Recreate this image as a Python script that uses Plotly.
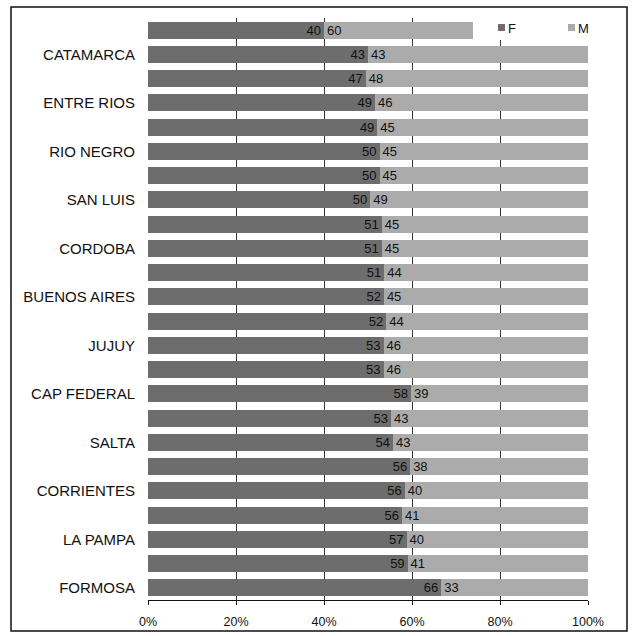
import plotly.graph_objects as go

# Rows from top to bottom; only every other row carries a province name
provinces = ["", "CATAMARCA", "", "ENTRE RIOS", "", "RIO NEGRO", "", "SAN LUIS",
             "", "CORDOBA", "", "BUENOS AIRES", "", "JUJUY", "", "CAP FEDERAL",
             "", "SALTA", "", "CORRIENTES", "", "LA PAMPA", "", "FORMOSA"]
f_vals = [40, 43, 47, 49, 49, 50, 50, 50, 51, 51, 51, 52, 52, 53, 53, 58,
          53, 54, 56, 56, 56, 57, 59, 66]
m_vals = [60, 43, 48, 46, 45, 45, 45, 49, 45, 45, 44, 45, 44, 46, 46, 39,
          43, 43, 38, 40, 41, 40, 41, 33]
series_names = ["F", "M"]
series_colors = ["#6d6d6d", "#ababab"]
x_ticks = [0, 0.2, 0.4, 0.6, 0.8, 1.0]

rows = list(range(len(provinces)))
totals = [f + m for f, m in zip(f_vals, m_vals)]
f_share = [f / t for f, t in zip(f_vals, totals)]
m_share = [m / t for m, t in zip(m_vals, totals)]

FONT = "Liberation Sans, Arial, sans-serif"
W, H = 632, 636
L, R, T, B = 148, 44, 18, 36
plot_w = W - L - R
plot_h = H - T - B


def px_x(px):
    return (px - L) / plot_w


def px_y(py):
    return (H - B - py) / plot_h


fig = go.Figure()
for name, vals, share, color, anchor in [
    ("F", f_vals, f_share, series_colors[0], "end"),
    ("M", m_vals, m_share, series_colors[1], "start"),
]:
    fig.add_trace(go.Bar(
        name=name, y=rows, x=share, orientation="h",
        marker=dict(color=color, line=dict(width=0)),
        text=[str(v) for v in vals], textposition="inside",
        insidetextanchor=anchor, textangle=0,
        textfont=dict(family=FONT, size=13, color="#111111"),
        showlegend=False,
    ))

label_rows = [i for i, p in enumerate(provinces) if p]
label_text = [provinces[i] for i in label_rows]

shapes = [
    # white legend panel over the top-right corner of the plot
    dict(type="rect", xref="paper", yref="paper", layer="above",
         x0=px_x(473), x1=px_x(594), y0=px_y(40), y1=px_y(0),
         fillcolor="white", line=dict(width=0)),
    # outer frame
    dict(type="rect", xref="paper", yref="paper", layer="above",
         x0=px_x(11), x1=px_x(627), y0=px_y(631), y1=px_y(7),
         fillcolor="rgba(0,0,0,0)", line=dict(color="#111111", width=1.5)),
]
annotations = []
# legend: small square swatch followed by the series name
for name, color, left in zip(series_names, series_colors, [498, 568]):
    shapes.append(dict(type="rect", xref="paper", yref="paper", layer="above",
                       x0=px_x(left), x1=px_x(left + 7),
                       y0=px_y(31), y1=px_y(24),
                       fillcolor=color, line=dict(width=0)))
    annotations.append(dict(xref="paper", yref="paper", x=px_x(left + 8),
                            y=px_y(28), xanchor="left", yanchor="middle",
                            text=name, showarrow=False,
                            font=dict(family=FONT, size=13, color="#111111")))

fig.update_layout(
    width=W, height=H,
    margin=dict(l=L, r=R, t=T, b=B, autoexpand=False),
    paper_bgcolor="white", plot_bgcolor="white",
    barmode="stack", bargap=0.3,
    font=dict(family=FONT, size=12, color="#111111"),
    uniformtext=dict(minsize=13, mode="show"),
    showlegend=False,
    xaxis=dict(
        range=[0, 1], tickvals=x_ticks, tickformat=".0%",
        showgrid=True, gridcolor="#333333", gridwidth=1,
        showline=True, linecolor="#111111", linewidth=1,
        ticks="outside", ticklen=4, tickcolor="#111111",
        ticklabelstandoff=6,
        tickfont=dict(family=FONT, size=12.5, color="#111111"),
        zeroline=False, fixedrange=True,
    ),
    yaxis=dict(
        range=[len(rows) - 0.5, -0.5],
        tickvals=label_rows, ticktext=label_text,
        showgrid=False, showline=False, zeroline=False, ticks="",
        ticklabelstandoff=12,
        tickfont=dict(family=FONT, size=15, color="#111111"),
        fixedrange=True,
    ),
    shapes=shapes,
    annotations=annotations,
)

fig.write_html("out.html")
